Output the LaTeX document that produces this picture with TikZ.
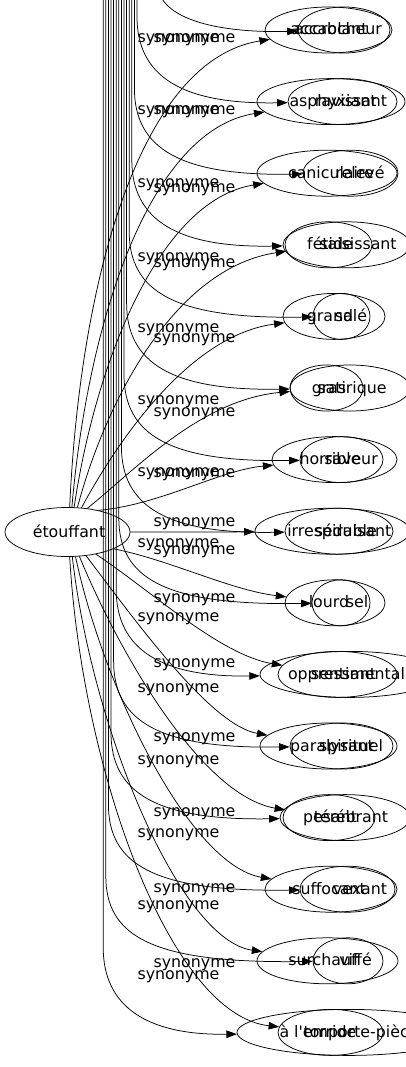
\documentclass[tikz,border=0pt]{standalone}
\usepackage{fontspec}
\setmainfont{DejaVu Sans}[Ligatures=TeXOff]
\usetikzlibrary{shapes.geometric,arrows.meta}
\begin{document}
\begin{tikzpicture}[x=1pt,y=-1pt,
  every node/.style={font=\fontsize{15.8}{18}\selectfont},
  ell/.style={draw,ellipse,inner sep=0pt,minimum height=46pt,line width=0.75pt},
  word/.style={anchor=base,inner sep=0pt},
  lab/.style={anchor=base,inner sep=0pt},
  syn/.style={draw,line width=0.75pt,-{Triangle[length=10.5pt,width=7.5pt]}}]
\fill[white] (0,0) rectangle (406,1067);
\useasboundingbox (0,0) rectangle (406,1067);
% centre node
\node[ell,minimum width=125pt,minimum height=49pt] (c) at (67.5,532) {};
\node[word] (ct) at (69,537) {étouffant};
% word nodes: row / y / A centre / A width / A text x / A text / B centre / B width / B text x / B text
\foreach \i/\y/\ax/\aw/\atx/\at/\bx/\bw/\btx/\bt in {
 1/30/328.5/127/329/accablant/344/92/338/accrocheur,
 2/101.6/331/148/333/asphyxiant/342.5/109/351/ravissant,
 3/173.2/327/140/331/caniculaire/350.5/95/360/relevé,
 4/244.8/328.5/87/330/fétide/346.5/127/358/saisissant,
 5/316.4/334/102/330/grand/341.5/57/351/salé,
 6/388/326.5/73/329/gras/350/120/352/satirique,
 7/459.6/334.5/125/330/horrible/341.5/83/351/saveur,
 8/531.2/332.5/155/332/irrespirable/339/108/353/séduisant,
 9/602.8/335/100/329/lourd/341/58/357/sel,
 10/674.4/337.5/119/332/oppressant/350/180/358/sentimental,
 11/746/328.5/137/332/paralysant/341.5/103/351/spirituel,
 12/817.6/329/92/330/pesant/345/130/351/térébrant,
 13/889.2/331/132/329/suffocant/347.5/95/360/vexant,
 14/960.8/327.5/141/330/surchauffé/348/70/349/vif,
 15/1032.4/330.5/105/330/torride/349/224/349/à l'emporte-pièce}{
  \node[ell,minimum width=\aw pt] (a\i) at (\ax,\y) {};
  \node[ell,minimum width=\bw pt] (b\i) at (\bx,\y) {};
  \node[word] (at\i) at (\atx,\y+5) {\at};
  \node[word] (bt\i) at (\btx,\y+5) {\bt};
}
% edges from the centre node
\foreach \i/\ang/\cax/\cay/\cbx/\cby in {
 1/85/80/280/140/60,
 2/80/88/320/150/130,
 3/75/96/360/160/200,
 4/68/106/400/175/268,
 5/60/118/440/190/335,
 6/50/135/470/200/400,
 7/35/160/505/220/470,
 8/0/170/532/220/532,
 9/-20/170/560/230/590,
 10/-38/150/590/220/655,
 11/-52/135/620/210/725,
 12/-64/118/650/200/795,
 13/-72/104/690/190/865,
 14/-79/92/730/180/940,
 15/-85/82/770/170/1015}{
  \draw[syn] (c.\ang) .. controls (\cax,\cay) and (\cbx,\cby) .. (a\i);
}
% edges coming from above the picture
\coordinate (t1) at (160,-5);
\draw[syn] (t1) .. controls (172,22) and (225,33) .. (b1);
\foreach \i/\xs/\y in {
 2/137/101.6, 3/134.4/173.2, 4/131.8/244.8, 5/129.2/316.4, 6/126.6/388,
 7/124/459.6, 8/121.4/531.2, 9/118.8/602.8, 10/116.2/674.4, 11/113.6/746,
 12/111/817.6, 13/108.4/889.2, 14/105.8/960.8, 15/103.2/1032.4}{
  \coordinate (t\i) at (\xs,-5);
  \draw[syn] (t\i) -- (\xs,\y-85) .. controls (\xs,\y-25) and (\xs+45,\y+3) .. (b\i);
}
% edge labels
\foreach \k/\y in {1/38,2/110,3/183,4/257,5/328,6/400,7/472,8/543,9/617,10/688,11/760,12/833,13/905,14/975}{
  \node[lab] (l\k) at (178.5,\y+4.5) {synonyme};
}
\foreach \k/\y in {1/38,2/110,3/188,4/263,5/338,6/412,7/473,8/522,9/550,10/598,11/663,12/737,13/812,14/888,15/963}{
  \node[lab] (r\k) at (194.5,\y+4.5) {synonyme};
}
\end{tikzpicture}
\end{document}
